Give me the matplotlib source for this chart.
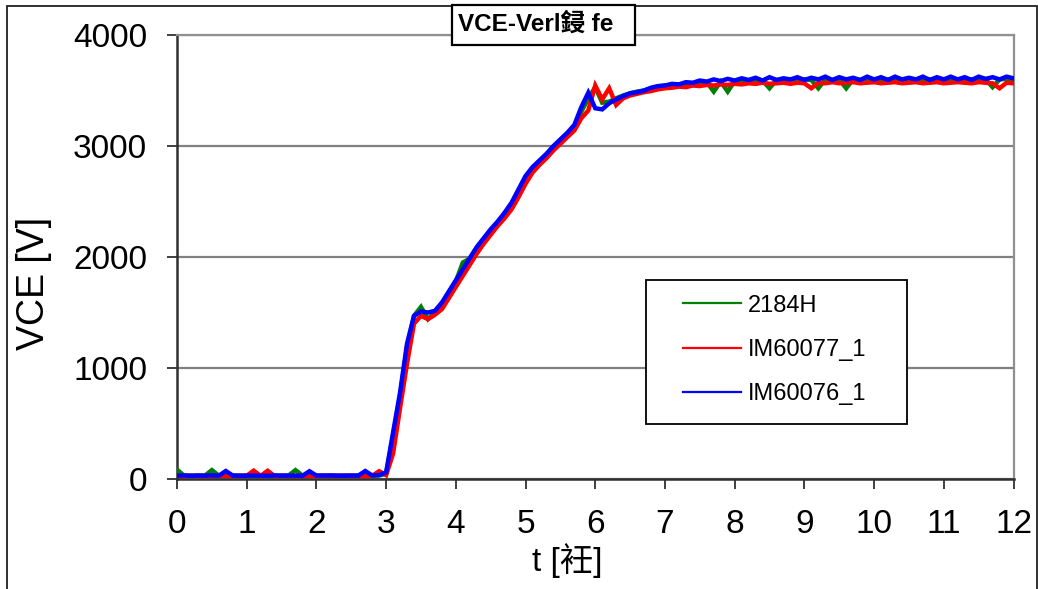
import numpy as np
import matplotlib
matplotlib.use("Agg")
import matplotlib.pyplot as plt
from matplotlib.patches import Rectangle

plt.rcParams['font.family'] = ['Liberation Sans', 'Noto Sans CJK TC', 'DejaVu Sans']

# sample clock in microseconds
time_us = np.round(np.arange(0, 12.05, 0.1), 1)

series_names = ["2184H", "IM60077_1", "IM60076_1"]
series_colors = ["#008000", "#FF0000", "#0000FF"]

vce_2184H = [
    85, 30, 29, 31, 30, 80, 30, 29, 30, 31,
    30, 29, 31, 30, 29, 30, 31, 80, 30, 29,
    30, 31, 29, 30, 31, 29, 30, 31, 30, 32,
    48, 390, 750, 1190, 1470, 1550, 1440, 1500, 1575, 1680,
    1780, 1950, 1985, 2080, 2160, 2240, 2310, 2390, 2480, 2600,
    2720, 2800, 2860, 2920, 2990, 3050, 3110, 3170, 3310, 3430,
    3530, 3390, 3400, 3430, 3455, 3475, 3490, 3500, 3520, 3535,
    3545, 3550, 3555, 3560, 3565, 3570, 3575, 3490, 3580, 3490,
    3585, 3590, 3585, 3595, 3590, 3520, 3595, 3590, 3600, 3595,
    3600, 3595, 3520, 3600, 3595, 3600, 3520, 3600, 3595, 3600,
    3600, 3595, 3600, 3605, 3600, 3595, 3600, 3605, 3600, 3595,
    3600, 3605, 3600, 3595, 3600, 3605, 3600, 3530, 3600, 3605, 3600]

vce_IM60077_1 = [
    28, 27, 29, 28, 27, 28, 29, 28, 27, 28,
    29, 75, 28, 74, 27, 28, 29, 27, 28, 28,
    27, 28, 29, 27, 28, 29, 27, 28, 29, 70,
    35, 230, 640, 1040, 1400, 1470, 1440, 1480, 1530, 1630,
    1730, 1830, 1930, 2030, 2120, 2200, 2280, 2350, 2430, 2540,
    2660, 2760, 2830, 2890, 2960, 3020, 3080, 3140, 3250, 3320,
    3545, 3420, 3520, 3370, 3430, 3455, 3470, 3485, 3495, 3510,
    3520, 3525, 3535, 3530, 3545, 3540, 3550, 3545, 3555, 3550,
    3560, 3555, 3565, 3560, 3570, 3560, 3565, 3570, 3560, 3570,
    3565, 3520, 3570, 3565, 3575, 3565, 3570, 3575, 3565, 3570,
    3575, 3565, 3570, 3575, 3565, 3570, 3575, 3565, 3570, 3575,
    3565, 3570, 3575, 3570, 3565, 3575, 3570, 3565, 3520, 3570, 3565]

vce_IM60076_1 = [
    30, 32, 29, 31, 30, 33, 30, 72, 31, 29,
    30, 31, 30, 29, 32, 30, 31, 30, 29, 70,
    31, 30, 32, 30, 29, 31, 30, 72, 32, 35,
    60, 420, 780, 1220, 1470, 1510, 1500, 1515, 1590, 1690,
    1790, 1890, 1990, 2090, 2170, 2250, 2320, 2400, 2490, 2610,
    2730, 2810, 2870, 2930, 3000, 3060, 3120, 3190, 3350, 3480,
    3340, 3330, 3385, 3420, 3450, 3475, 3485, 3500, 3525, 3540,
    3545, 3560, 3555, 3575, 3570, 3590, 3580, 3600, 3585, 3605,
    3590, 3610, 3595, 3615, 3590, 3620, 3595, 3610, 3600, 3620,
    3595, 3615, 3600, 3625, 3595, 3620, 3600, 3615, 3595, 3625,
    3600, 3620, 3595, 3625, 3600, 3615, 3600, 3625, 3595, 3620,
    3600, 3625, 3600, 3620, 3595, 3625, 3605, 3620, 3600, 3625, 3610]

x_ticks = list(range(0, 13))
y_ticks = [0, 1000, 2000, 3000, 4000]
title_text = "VCE-Verl鋟 fe"
x_label = "t [衽]"
y_label = "VCE [V]"

W, H = 1038, 589
fig = plt.figure(figsize=(W / 100, H / 100), dpi=100)
L, R, T, B = 177, 1013.5, 35, 479
ax = fig.add_axes([L / W, 1 - B / H, (R - L) / W, (B - T) / H])

all_series = [vce_2184H, vce_IM60077_1, vce_IM60076_1]
for vals, name, col in zip(all_series, series_names, series_colors):
    ax.plot(time_us, vals, color=col, lw=3.2, label=name, zorder=3,
            solid_joinstyle='miter')

ax.set_xlim(0, 12)
ax.set_ylim(0, 4000)
ax.set_xticks(x_ticks)
ax.set_yticks(y_ticks)
ax.tick_params(axis='both', labelsize=24, length=7.5, width=1.3,
               color='#303030', direction='out')
ax.tick_params(axis='x', pad=14)
ax.tick_params(axis='y', pad=14)
ax.yaxis.grid(True, color='#808080', lw=1.6, zorder=1)
ax.set_axisbelow(True)
for s in ['left', 'bottom']:
    ax.spines[s].set_color('#303030')
    ax.spines[s].set_linewidth(1.8)
for s in ['top', 'right']:
    ax.spines[s].set_color('#909090')
    ax.spines[s].set_linewidth(1.6)

ax.set_ylabel(y_label, fontsize=27)
ax.yaxis.set_label_coords(-0.150, 0.44)
ax.set_xlabel(x_label, fontsize=24)
ax.xaxis.set_label_coords(0.466, -0.145)

# legend box
lx0, lx1 = (646 - L) / (R - L), (907 - L) / (R - L)
ly0, ly1 = (B - 424) / (B - T), (B - 280) / (B - T)
ax.add_patch(Rectangle((lx0, ly0), lx1 - lx0, ly1 - ly0, transform=ax.transAxes,
                       facecolor='white', edgecolor='black', lw=1.3, zorder=5))
leg = ax.legend(loc='center left', bbox_to_anchor=((683 - L) / (R - L), (B - 350) / (B - T)),
                frameon=False, borderpad=0, borderaxespad=0, handlelength=2.45,
                handletextpad=0.3, labelspacing=0.95, fontsize=17)
leg.set_zorder(6)
for hl in leg.get_lines():
    hl.set_linewidth(1.6)

# title box
fig.add_artist(Rectangle((452 / W, 1 - 45 / H), 183 / W, 40 / H, transform=fig.transFigure,
                         facecolor='white', edgecolor='black', lw=1.6, zorder=10))
fig.text(458 / W, 1 - 31 / H, title_text, fontsize=17.5, fontweight='bold',
         ha='left', va='baseline', zorder=11)

# outer frame
fig.add_artist(Rectangle((7 / W, -0.02), (1037 - 7) / W, 1 - 6 / H + 0.02,
                         transform=fig.transFigure, fill=False, edgecolor='#202020',
                         lw=1.3, zorder=0))

fig.savefig("out.png", dpi=100)
